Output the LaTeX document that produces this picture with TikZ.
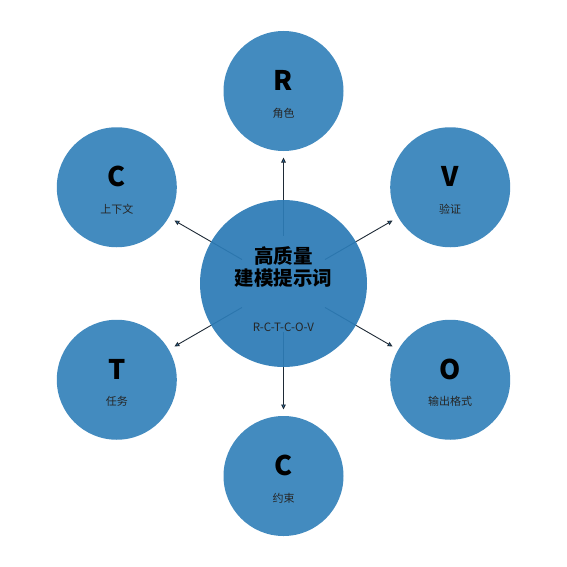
\documentclass[tikz,border=0pt]{standalone}
\usepackage{fontspec}
\setmainfont{Noto Sans CJK SC}
\usetikzlibrary{arrows.meta,calc}
\definecolor{centerblue}{HTML}{2C7BB6}
\definecolor{outerblue}{HTML}{438BBF}
\definecolor{linedark}{HTML}{1E2A36}
\tikzset{
  outer/.style={circle,fill=outerblue,minimum size=120pt,inner sep=0pt},
  hub/.style={circle,fill=centerblue,fill opacity=0.93,minimum size=167pt,inner sep=0pt},
  letter/.style={font=\fontsize{27}{30}\selectfont\bfseries,text=black},
  sub/.style={font=\fontsize{11}{13}\selectfont,text=black!85},
  conn/.style={draw=linedark,line width=0.9pt,-{Triangle[length=5pt,width=4.5pt,fill=centerblue]}},
}
\begin{document}
\begin{tikzpicture}[x=1pt,y=-1pt]
\useasboundingbox (0,0) rectangle (567,567);
\coordinate (c) at (283.5,283.5);
% outer circles (angles negated because y points down)
\foreach \nm/\ang/\L/\T in {r/-90/R/角色, v/-30/V/验证, o/30/O/输出格式, cb/90/C/约束, t/150/T/任务, cl/210/C/上下文}{
  \node[outer] (\nm) at ($(c)+(\ang:192.5)$) {};
  \node[letter] (\nm L) at ($(\nm)+(0,-10.5)$) {\L};
  \node[sub] (\nm S) at ($(\nm)+(0,22)$) {\T};
  \coordinate (\nm A) at ($(c)+(\ang:48)$);
  \coordinate (\nm B) at ($(c)+(\ang:126)$);
  \draw[conn] (\nm A) -- (\nm B);
}
\node[hub] (hub) at (c) {};
\node[font=\fontsize{19.5}{21.5}\selectfont\bfseries,align=center,text=black] (title) at ($(c)+(0,-16.5)$) {高质量\\建模提示词};
\node[font=\fontsize{11.5}{13}\selectfont,text=black!85] (code) at ($(c)+(0,43.5)$) {R-C-T-C-O-V};
\end{tikzpicture}
\end{document}
